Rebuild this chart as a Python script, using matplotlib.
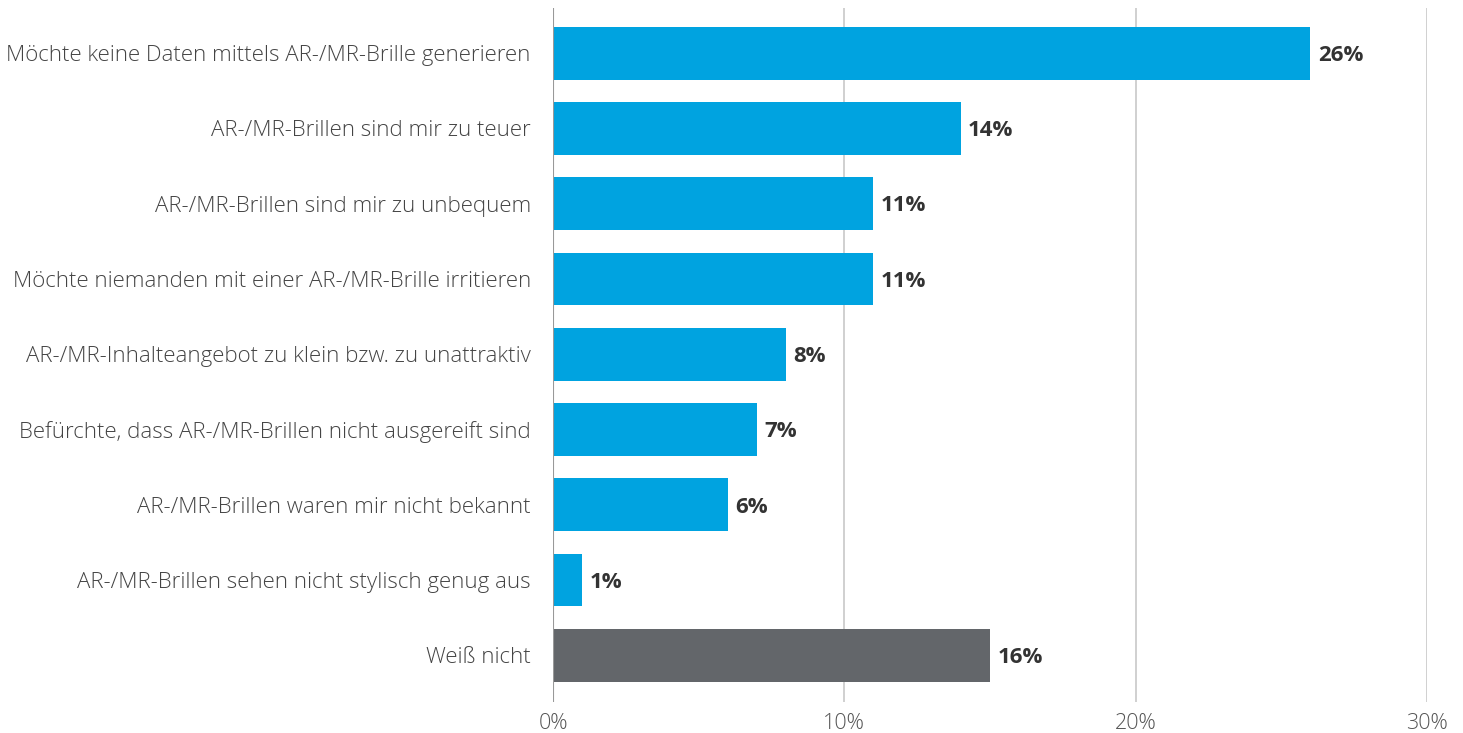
import matplotlib.pyplot as plt
from matplotlib.ticker import FuncFormatter

plt.rcParams['font.family'] = ['Open Sans', 'DejaVu Sans']

categories = [
    "Möchte keine Daten mittels AR-/MR-Brille generieren",
    "AR-/MR-Brillen sind mir zu teuer",
    "AR-/MR-Brillen sind mir zu unbequem",
    "Möchte niemanden mit einer AR-/MR-Brille irritieren",
    "AR-/MR-Inhalteangebot zu klein bzw. zu unattraktiv",
    "Befürchte, dass AR-/MR-Brillen nicht ausgereift sind",
    "AR-/MR-Brillen waren mir nicht bekannt",
    "AR-/MR-Brillen sehen nicht stylisch genug aus",
    "Weiß nicht",
]
values = [26, 14, 11, 11, 8, 7, 6, 1, 15]
value_labels = ["26%", "14%", "11%", "11%", "8%", "7%", "6%", "1%", "16%"]
colors = ["#00A3E0"] * 8 + ["#63666A"]

fig = plt.figure(figsize=(14.63, 7.33), dpi=100)
ax = fig.add_axes([553 / 1463, 1 - 702 / 733, (1427 - 553) / 1463, (702 - 8) / 733])

y = list(range(len(categories)))
ax.barh(y, values, height=0.7, color=colors, zorder=2)

for yi, v, lab in zip(y, values, value_labels):
    ax.text(v + 0.25, yi + 0.03, lab, va='center', ha='left', fontsize=16,
            fontweight='bold', color='#333333')

ax.set_xlim(0, 30)
ax.set_ylim(len(categories) - 1 + 0.62, -0.6)
ax.set_xticks([0, 10, 20, 30])
ax.xaxis.set_major_formatter(FuncFormatter(lambda x, p: f"{x:.0f}%"))
ax.set_yticks(y)
ax.set_yticklabels(categories, fontweight='light')
for t in ax.get_xticklabels():
    t.set_fontweight('light')

ax.grid(axis='x', color='#c8c8c8', linewidth=1.2, zorder=0)
ax.axvline(0, color='#999999', linewidth=1.5, zorder=3)
for s in ax.spines.values():
    s.set_visible(False)

ax.tick_params(axis='y', length=0, pad=16, labelsize=16, labelcolor='#444444')
ax.tick_params(axis='x', length=0, pad=8, labelsize=15.5, labelcolor='#555555')

fig.savefig('out.png', dpi=100)
